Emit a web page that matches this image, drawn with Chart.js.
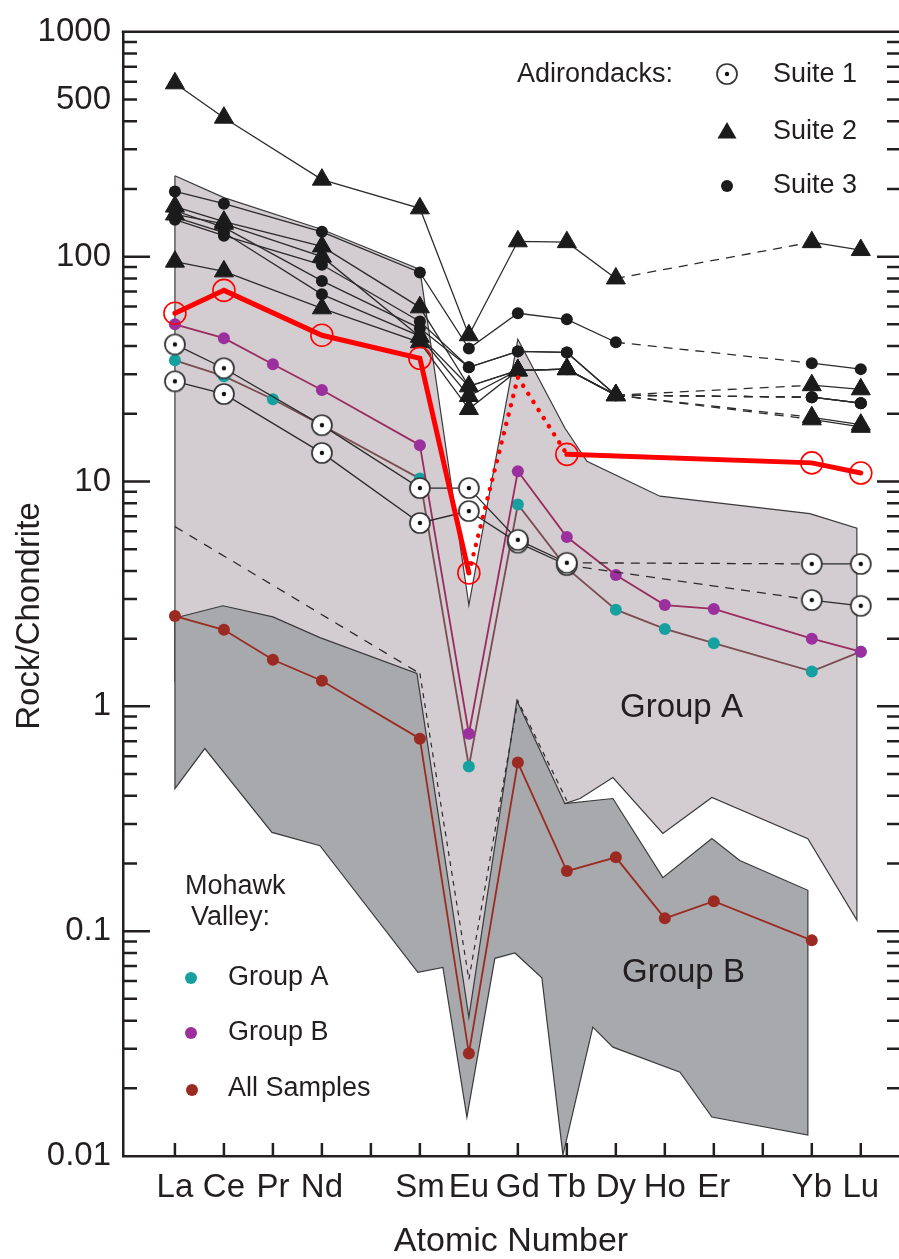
<!DOCTYPE html>
<html>
<head>
<meta charset="utf-8">
<title>REE patterns normalised to chondrite</title>
<script src="https://cdn.jsdelivr.net/npm/chart.js@4.4.0/dist/chart.umd.min.js"></script>
<style>
  html, body { margin: 0; padding: 0; background: #ffffff; }
  #wrap { position: relative; width: 899px; height: 1259px; }
  canvas { display: block; }
</style>
</head>
<body>
<div id="wrap"><canvas id="ree" width="899" height="1259"></canvas></div>
<script>
// ---- Axis definitions -------------------------------------------------------
const elementSymbols = ['La','Ce','Pr','Nd','Pm','Sm','Eu','Gd','Tb','Dy','Ho','Er','Tm','Yb','Lu'];
const atomicNumbers  = [57, 58, 59, 60, 61, 62, 63, 64, 65, 66, 67, 68, 69, 70, 71];
const xTickLabels    = ['La','Ce','Pr','Nd','','Sm','Eu','Gd','Tb','Dy','Ho','Er','','Yb','Lu'];

const yTickValues = [1000, 500, 100, 10, 1, 0.1, 0.01];
const yTickLabels = ['1000', '500', '100', '10', '1', '0.1', '0.01'];

// ---- Adirondacks suites (rock / chondrite) ----------------------------------
const suite1Elements = ['La','Ce','Nd','Sm','Eu','Gd','Tb','Yb','Lu'];
const suite1SampleA  = [40.7, 31.9, 17.8, 9.35, 9.35, 5.5, 4.35, 4.3, 4.3];
const suite1SampleB  = [27.9, 24.5, 13.4, 6.54, 7.39, 5.35, 4.25, 2.97, 2.8];

const suiteElements  = ['La','Ce','Nd','Sm','Eu','Gd','Tb','Dy','Yb','Lu'];
const suite2SampleA  = [590, 415, 220, 164, 44.7, 117, 116, 80, 116, 107];
const suite2SampleB  = [167, 143, 111, 59.5, 26.5, 31.2, 31.6, 24.2, 26.8, 25.7];
const suite2SampleC  = [154, 140, 100, 44, 24, 31.2, 31.6, 24.2, 19.3, 17.9];
const suite2SampleD  = [95, 86, 58.9, 41.6, 21.0, 31.2, 31.6, 24.2, 18.9, 17.5];

const suite3SampleA  = [195, 172, 129, 85, 39, 56, 52.6, 41.6, 33.6, 31.6];
const suite3SampleB  = [146, 124, 92, 51.5, 32.2, 37.9, 37.5, 24.2, 23.7, 22.3];
const suite3SampleC  = [160, 135, 78, 48.0, 32.2, 37.9, 37.5, 24.2, 23.7, 22.3];
const suite3SampleD  = [150, 128, 68, 44.3, 26.5, 31.2, 31.6, 24.2, 23.7, 22.3];

// ---- Mohawk Valley averages -------------------------------------------------
const mohawkElements   = ['La','Ce','Pr','Nd','Sm','Eu','Gd','Tb','Dy','Ho','Er','Yb','Lu'];
const mohawkGroupA     = [34.6, 29.4, 23.2, 17.8, 10.3, 0.54, 7.9, 4.12, 2.69, 2.21, 1.91, 1.43, 1.75];
const mohawkGroupB     = [50, 43.4, 33.2, 25.5, 14.5, 0.755, 11.1, 5.66, 3.84, 2.82, 2.71, 2.0, 1.75];
const mohawkAllSamples = [2.52, 2.19, 1.61, 1.30, 0.718, 0.0286, 0.562, 0.185, 0.213, 0.114, 0.136, 0.091, null];

// ---- Highlighted sample (open red circles) ----------------------------------
const highlightElements = ['La','Ce','Nd','Sm','Eu','Gd','Tb','Yb','Lu'];
const highlightValues   = [56, 70.8, 44.7, 35.3, 3.92, 29, 13.2, 12.1, 10.9];
const highlightMarked   = [true, true, true, true, true, false, true, true, true];

// ---- Compositional fields (outline vertices, atomic number / value) ---------
const groupAFieldX = [57, 58, 60, 62, 63, 64, 64.96, 65.41, 66.9, 69.96, 70.92,
                      70.92, 69.92, 67.96, 66.96, 65.94, 65.27, 64.96, 64, 63, 62, 57, 57];
const groupAFieldY = [229, 183, 132, 87.7, 2.82, 42.9, 17.3, 12.3, 8.6, 7.2, 6.2,
                      0.112, 0.258, 0.393, 0.272, 0.482, 0.389, 0.369, 0.3, 0.025, 1.0, 1.3, 229];

const groupBFieldX = [57, 57.98, 59, 59.96, 61.94, 63, 63.98, 64.96, 65.94, 66.96, 67.96, 68.53, 69.92,
                      69.92, 67.96, 67.31, 65.94, 65.53, 64.92, 64.49, 63.94, 63.53, 62.96, 62.47,
                      61.96, 59.96, 58.98, 57.61, 57, 57];
const groupBFieldY = [2.47, 2.80, 2.50, 2.02, 1.40, 0.0414, 1.06, 0.369, 0.389, 0.173, 0.258, 0.206, 0.152,
                      0.0124, 0.0149, 0.0236, 0.0305, 0.0374, 0.0101, 0.062, 0.080, 0.0757, 0.0149, 0.069,
                      0.0656, 0.240, 0.275, 0.649, 0.430, 2.47];

const groupALimitX  = [57, 62];
const groupALimitY  = [6.3, 1.40];
const euTroughX     = [62, 63, 64, 65];
const euTroughY     = [1.40, 0.061, 1.06, 0.38];

// ---- Styling -----------------------------------------------------------------
const FONT = '"Liberation Sans", Arial, Helvetica, sans-serif';
const AXIS = '#231f20';
const TEXT = '#231f20';
const LINE = '#2b2b2b';
const TEAL = '#17a0a0';
const PURPLE = '#9b2f9e';
const BROWN = '#9b2a22';
const RED = '#ff0000';

Chart.defaults.font.family = FONT;

function zOf(el) { return atomicNumbers[elementSymbols.indexOf(el)]; }
function series(els, vals) {
  const out = [];
  els.forEach((el, i) => { if (vals[i] != null) out.push({ x: zOf(el), y: vals[i] }); });
  return out;
}
function outline(xs, ys) { return xs.map((x, i) => ({ x, y: ys[i] })); }

// open circle with a centre dot, used for Suite 1
function makeBullseye() {
  const c = document.createElement('canvas');
  c.width = 26; c.height = 26;
  const g = c.getContext('2d');
  g.beginPath(); g.arc(13, 13, 10, 0, Math.PI * 2);
  g.fillStyle = '#ffffff'; g.fill();
  g.lineWidth = 1.7; g.strokeStyle = '#333333'; g.stroke();
  g.beginPath(); g.arc(13, 13, 2.2, 0, Math.PI * 2);
  g.fillStyle = '#111111'; g.fill();
  return c;
}
const bullseye = makeBullseye();

// links that skip over missing elements are drawn dashed
const gapDash = ctx => (ctx.p1.parsed.x - ctx.p0.parsed.x > 2 ? [9, 7] : undefined);

function suiteLine(data, marker, order) {
  return Object.assign({
    data, order, fill: false, tension: 0,
    borderColor: LINE, borderWidth: 1.3,
    segment: { borderDash: gapDash }
  }, marker);
}
const suite1Marker = { pointStyle: bullseye, pointRadius: 11 };
const suite2Marker = { pointStyle: 'triangle', pointRadius: 11, pointBackgroundColor: '#1b1b1b',
                       pointBorderColor: '#1b1b1b', pointBorderWidth: 1 };
const suite3Marker = { pointStyle: 'circle', pointRadius: 6, pointBackgroundColor: '#1b1b1b',
                       pointBorderColor: '#1b1b1b', pointBorderWidth: 0 };

function mohawkLine(vals, lineColor, dotColor, order) {
  return {
    data: series(mohawkElements, vals), order, fill: false, tension: 0,
    borderColor: lineColor, borderWidth: 1.8,
    pointStyle: 'circle', pointRadius: 6, pointBackgroundColor: dotColor, pointBorderWidth: 0
  };
}

const dottedLink = ctx => !highlightMarked[ctx.p0DataIndex] || !highlightMarked[ctx.p1DataIndex];

const datasets = [
  // fields
  { data: outline(groupAFieldX, groupAFieldY), fill: 'shape', backgroundColor: '#d3ccd1',
    borderColor: '#3a3a3a', borderWidth: 1.2, pointRadius: 0, tension: 0, order: 50 },
  { data: outline(groupBFieldX, groupBFieldY), fill: 'shape', backgroundColor: '#a8a9ac',
    borderColor: '#3a3a3a', borderWidth: 1.2, pointRadius: 0, tension: 0, order: 40 },
  { data: outline(groupALimitX, groupALimitY), fill: false, borderColor: '#2b2b2b', borderWidth: 1.3,
    borderDash: [9, 8], pointRadius: 0, order: 30 },
  { data: outline(euTroughX, euTroughY), fill: false, borderColor: '#2b2b2b', borderWidth: 1.2,
    borderDash: [5, 5], pointRadius: 0, order: 30 },

  // Adirondacks suites
  suiteLine(series(suiteElements, suite3SampleA), suite3Marker, 14),
  suiteLine(series(suiteElements, suite3SampleB), suite3Marker, 14),
  suiteLine(series(suiteElements, suite3SampleC), suite3Marker, 14),
  suiteLine(series(suiteElements, suite3SampleD), suite3Marker, 14),
  suiteLine(series(suiteElements, suite2SampleA), suite2Marker, 12),
  suiteLine(series(suiteElements, suite2SampleB), suite2Marker, 12),
  suiteLine(series(suiteElements, suite2SampleC), suite2Marker, 12),
  suiteLine(series(suiteElements, suite2SampleD), suite2Marker, 12),

  // Mohawk Valley
  mohawkLine(mohawkAllSamples, BROWN, BROWN, 8),
  mohawkLine(mohawkGroupA, '#7a4d52', TEAL, 7),
  mohawkLine(mohawkGroupB, '#9a2d5e', PURPLE, 6),

  suiteLine(series(suite1Elements, suite1SampleA), suite1Marker, 4),
  suiteLine(series(suite1Elements, suite1SampleB), suite1Marker, 4),

  // highlighted sample
  { data: series(highlightElements, highlightValues), order: 1, fill: false, tension: 0,
    borderColor: RED, borderWidth: 5, borderCapStyle: 'round', borderJoinStyle: 'miter',
    pointStyle: 'circle',
    pointRadius: ctx => (highlightMarked[ctx.dataIndex] ? 11 : 0),
    pointBackgroundColor: 'rgba(255,255,255,0)', pointBorderColor: RED, pointBorderWidth: 1.6,
    segment: {
      borderDash: ctx => (dottedLink(ctx) ? [0.1, 9.5] : undefined),
      borderWidth: ctx => (dottedLink(ctx) ? 4.5 : undefined)
    } }
];

// ---- Frame, inward ticks, annotations and key ---------------------------------
function drawTriangle(ctx, x, y, r) {
  ctx.beginPath();
  for (let k = 0; k < 3; k++) {
    const a = k * 2 * Math.PI / 3;
    const px = x + Math.sin(a) * r, py = y - Math.cos(a) * r;
    if (k === 0) ctx.moveTo(px, py); else ctx.lineTo(px, py);
  }
  ctx.closePath();
  ctx.fill();
}
function drawDot(ctx, x, y, r, color) {
  ctx.beginPath(); ctx.arc(x, y, r, 0, Math.PI * 2);
  ctx.fillStyle = color; ctx.fill();
}

const decorations = {
  id: 'decorations',
  afterDatasetsDraw(chart) {
    const { ctx, chartArea: a, scales } = chart;
    const xs = scales.x, ys = scales.y;
    ctx.save();
    ctx.strokeStyle = AXIS;
    ctx.lineWidth = 2.5;
    ctx.beginPath();
    ctx.moveTo(a.left - 1.25, a.top);
    ctx.lineTo(a.right, a.top);
    for (let e = -2; e <= 2; e++) {
      for (let m = 1; m <= 9; m++) {
        if (e === -2 && m === 1) continue;
        const py = ys.getPixelForValue(m * Math.pow(10, e));
        const major = m === 1;
        ctx.moveTo(a.left, py);  ctx.lineTo(a.left + (major ? 27 : 14), py);
        ctx.moveTo(a.right, py); ctx.lineTo(a.right - (major ? 22 : 12), py);
      }
    }
    atomicNumbers.forEach(n => {
      const px = xs.getPixelForValue(n);
      ctx.moveTo(px, a.bottom); ctx.lineTo(px, a.bottom - 13);
    });
    ctx.stroke();

    ctx.fillStyle = TEXT;
    ctx.textBaseline = 'middle';
    ctx.textAlign = 'left';

    // field names
    ctx.font = '33px ' + FONT;
    ctx.fillText('Group A', 620, 708);
    ctx.fillText('Group B', 622, 973);

    // Adirondacks key
    ctx.font = '27px ' + FONT;
    ctx.fillText('Adirondacks:', 517, 75);
    ctx.drawImage(bullseye, 727 - 13, 74 - 13);
    ctx.fillText('Suite 1', 773, 75);
    ctx.fillStyle = '#1b1b1b';
    drawTriangle(ctx, 727, 133, 11);
    ctx.fillStyle = TEXT;
    ctx.fillText('Suite 2', 773, 132);
    drawDot(ctx, 727, 186, 6, '#1b1b1b');
    ctx.fillStyle = TEXT;
    ctx.fillText('Suite 3', 773, 186);

    // Mohawk Valley key
    ctx.fillText('Mohawk', 185, 887);
    ctx.fillText('Valley:', 191, 918);
    drawDot(ctx, 191, 978, 6, TEAL);
    drawDot(ctx, 191, 1033, 6, PURPLE);
    drawDot(ctx, 192, 1090, 6, BROWN);
    ctx.fillStyle = TEXT;
    ctx.fillText('Group A', 228, 978);
    ctx.fillText('Group B', 228, 1033);
    ctx.fillText('All Samples', 228, 1089);

    // vertical axis title
    ctx.save();
    ctx.translate(30, 616);
    ctx.rotate(-Math.PI / 2);
    ctx.textAlign = 'center';
    ctx.font = '33px ' + FONT;
    ctx.fillText('Rock/Chondrite', 0, 0);
    ctx.restore();

    ctx.restore();
  }
};

new Chart(document.getElementById('ree'), {
  type: 'line',
  data: { datasets },
  options: {
    responsive: false,
    devicePixelRatio: 1,
    animation: false,
    events: [],
    layout: { autoPadding: false, padding: { top: 30, left: 0, right: 0, bottom: 0 } },
    plugins: { legend: { display: false }, tooltip: { enabled: false } },
    scales: {
      x: {
        type: 'linear',
        min: 55.94,
        max: 71.78,
        afterBuildTicks: s => { s.ticks = atomicNumbers.map(v => ({ value: v })); },
        afterFit: s => { s.height = 103; },
        grid: { display: true, drawOnChartArea: false, drawTicks: false },
        border: { display: true, color: AXIS, width: 2.5 },
        ticks: {
          autoSkip: false, maxRotation: 0, minRotation: 0, padding: 12,
          color: TEXT, font: { size: 33 },
          callback: v => { const i = atomicNumbers.indexOf(v); return i < 0 ? '' : xTickLabels[i]; }
        },
        title: { display: true, text: 'Atomic Number', color: TEXT,
                 font: { size: 34, lineHeight: 1 }, padding: 0 }
      },
      y: {
        type: 'logarithmic',
        min: 0.01,
        max: 1000,
        afterBuildTicks: s => { s.ticks = yTickValues.map(v => ({ value: v })); },
        afterFit: s => { s.width = 123; },
        grid: { display: true, drawOnChartArea: false, drawTicks: false },
        border: { display: true, color: AXIS, width: 2.5 },
        ticks: {
          autoSkip: false, padding: 12, color: TEXT, font: { size: 33 },
          callback: v => { const i = yTickValues.indexOf(v); return i < 0 ? '' : yTickLabels[i]; }
        }
      }
    }
  },
  plugins: [decorations]
});
</script>
</body>
</html>
